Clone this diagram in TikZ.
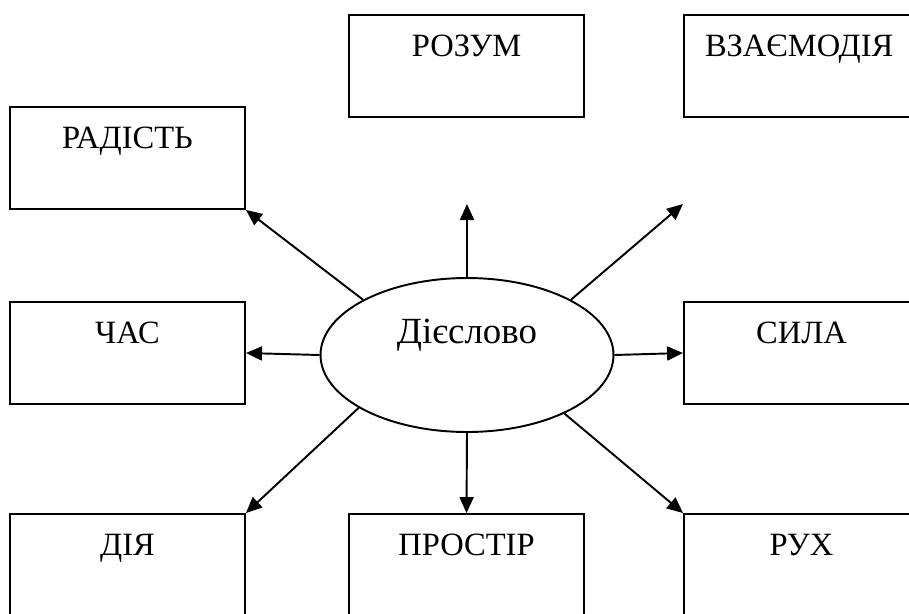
\documentclass[tikz,border=0pt]{standalone}
\usepackage{fontspec}
\setmainfont{Liberation Serif}
\usetikzlibrary{arrows.meta,shapes.geometric}

\begin{document}
\begin{tikzpicture}[x=0.02cm, y=-0.02cm, >={Triangle[length=3.2mm, width=2.8mm]}, line width=1.1pt,
  box/.style={draw, rectangle, minimum width=4.7cm, minimum height=2.04cm, inner sep=0pt,
    text height=4.5mm, text depth=8.5mm, font=\fontsize{18.5pt}{21pt}\selectfont},
  verb/.style={draw, ellipse, minimum width=5.86cm, minimum height=3.08cm, inner sep=0pt,
    text height=5mm, text depth=9.8mm, font=\fontsize{21pt}{24pt}\selectfont}]
\useasboundingbox (0,0) rectangle (909,613);
\clip (0,0) rectangle (909,613);
\node[verb] (verb) at (467,355) {Дієслово};
\node[box] (rozum) at (466.5,66) {РОЗУМ};
\node[box, align=left, text width=3.86cm, inner xsep=4.2mm] (vzaem) at (801.5,66) {ВЗАЄМОДІЯ};
\node[box] (radist) at (127.5,158) {РАДІСТЬ};
\node[box] (chas) at (127.5,353) {ЧАС};
\node[box] (syla) at (801.5,353) {СИЛА};
\node[box] (diya) at (127.5,565) {ДІЯ};
\node[box] (prostir) at (466.5,565) {ПРОСТІР};
\node[box] (rukh) at (801.5,565) {РУХ};
\coordinate (up) at (467,204);
\coordinate (upr) at (683,204);
\draw[->] (verb.north) -- (up); \draw[->] (verb.28) -- (upr);
\draw[->] (verb.152) -- (radist.south east); \draw[->] (verb.west) -- (chas.east);
\draw[->] (verb.east) -- (syla.west); \draw[->] (verb.206) -- (diya.north east);
\draw[->] (verb.south) -- (prostir.north); \draw[->] (verb.329) -- (rukh.north west);
\end{tikzpicture}
\end{document}
